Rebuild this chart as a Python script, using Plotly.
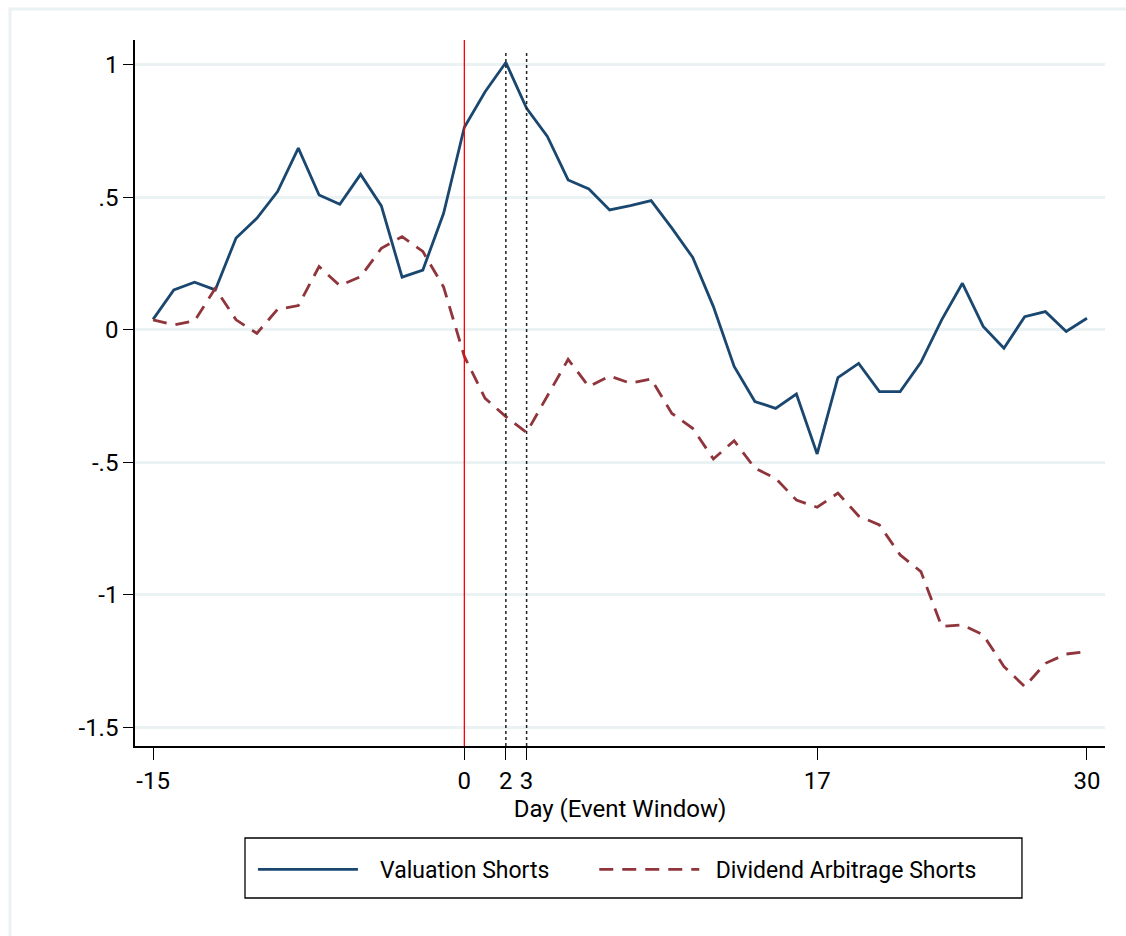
import plotly.graph_objects as go

days = list(range(-15, 31))

valuation_shorts = [
    0.040, 0.151, 0.180, 0.151, 0.347, 0.421, 0.522, 0.686, 0.509, 0.474,
    0.587, 0.468, 0.199, 0.226, 0.440, 0.765, 0.899, 1.009, 0.836, 0.730,
    0.566, 0.532, 0.453, 0.469, 0.488, 0.384, 0.274, 0.088, -0.138, -0.270,
    -0.296, -0.242, -0.468, -0.180, -0.126, -0.233, -0.233, -0.122, 0.038, 0.176,
    0.013, -0.069, 0.050, 0.069, -0.006, 0.044,
]

dividend_arbitrage_shorts = [
    0.038, 0.019, 0.034, 0.157, 0.038, -0.013, 0.078, 0.092, 0.239, 0.167,
    0.201, 0.308, 0.352, 0.296, 0.162, -0.100, -0.258, -0.327, -0.387, -0.249,
    -0.111, -0.214, -0.174, -0.201, -0.185, -0.315, -0.371, -0.487, -0.418, -0.522,
    -0.560, -0.642, -0.669, -0.616, -0.702, -0.736, -0.849, -0.912, -1.119, -1.113,
    -1.151, -1.270, -1.346, -1.258, -1.223, -1.214,
]

x_tickvals = [-15, 0, 2, 3, 17, 30]
x_ticktext = ["-15", "0", "2", "3", "17", "30"]
y_tickvals = [1, 0.5, 0, -0.5, -1, -1.5]
y_ticktext = ["1", ".5", "0", "-.5", "-1", "-1.5"]
event_day = 0
window_days = [2, 3]

FONT = "Roboto, Liberation Sans, Arial, sans-serif"
GRID = "#eaf2f3"
NB = "\u00a0"

fig = go.Figure()
fig.add_trace(go.Scatter(
    x=days, y=valuation_shorts, mode="lines",
    name=NB * 3 + "Valuation Shorts" + NB * 7,
    line=dict(color="#1a476f", width=2.8),
))
fig.add_trace(go.Scatter(
    x=days, y=dividend_arbitrage_shorts, mode="lines",
    name=NB * 2 + "Dividend Arbitrage Shorts",
    line=dict(color="#90353b", width=2.8, dash="14px,9px"),
))

shapes = [
    dict(type="line", xref="x", yref="paper", x0=event_day, x1=event_day, y0=0, y1=1,
         line=dict(color="#ff0000", width=1.3), layer="above"),
]
for d in window_days:
    shapes.append(dict(type="line", xref="x", yref="paper", x0=d, x1=d, y0=0, y1=0.985,
                       line=dict(color="#222222", width=1.5, dash="3px,3px"), layer="above"))
# outer graph-region frame (top and left edges)
shapes.append(dict(type="path", xref="paper", yref="paper",
                   path="M -0.1289,-0.27 L -0.1289,1.0439 L 1.03,1.0439",
                   line=dict(color=GRID, width=3)))
# legend frame
shapes.append(dict(type="rect", xref="paper", yref="paper",
                   x0=0.1134, x1=0.9144, y0=-0.2153, y1=-0.1303,
                   line=dict(color="black", width=1.3), fillcolor="rgba(0,0,0,0)"))

fig.update_layout(
    width=1126, height=936,
    margin=dict(l=135, r=21, t=40, b=190),
    paper_bgcolor="white", plot_bgcolor="white",
    font=dict(family=FONT, size=24, color="black"),
    shapes=shapes,
    showlegend=True,
    legend=dict(
        orientation="h", x=0.1216, xanchor="left", y=-0.1445, yanchor="top",
        borderwidth=0, bgcolor="rgba(0,0,0,0)",
        font=dict(family=FONT, size=23, color="black"),
        itemwidth=100, tracegroupgap=0,
    ),
    xaxis=dict(
        range=[-15.87, 30.87], tickmode="array", tickvals=x_tickvals, ticktext=x_ticktext,
        ticks="outside", ticklen=12, tickwidth=1.3, tickcolor="black",
        showline=True, linecolor="black", linewidth=1.5,
        showgrid=False, zeroline=False,
        title=dict(text="Day (Event Window)", standoff=2, font=dict(size=24)),
        tickfont=dict(size=24),
    ),
    yaxis=dict(
        range=[-1.570, 1.094], tickmode="array", tickvals=y_tickvals, ticktext=y_ticktext,
        ticks="outside", ticklen=10, tickwidth=1.3, tickcolor="black",
        showline=True, linecolor="black", linewidth=1.5,
        showgrid=True, gridcolor=GRID, gridwidth=2.5, zeroline=False,
        tickfont=dict(size=24),
    ),
)

fig.write_html("out.html")
